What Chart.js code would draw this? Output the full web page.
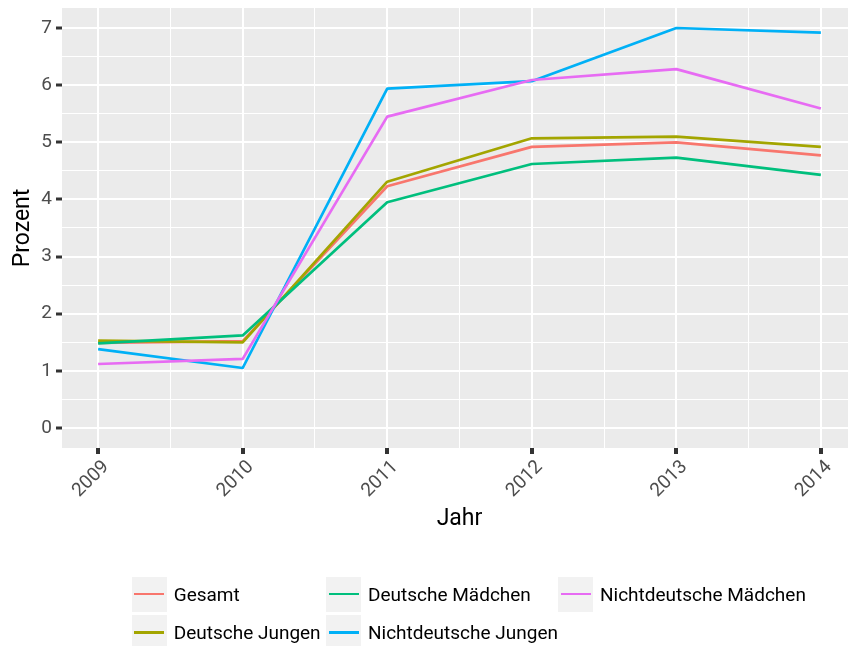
<!DOCTYPE html>
<html>
<head>
<meta charset="utf-8">
<script src="https://cdn.jsdelivr.net/npm/chart.js@4.4.0/dist/chart.umd.min.js"></script>
<style>
  html, body { margin: 0; padding: 0; background: #fff; overflow: hidden; width: 848px; height: 646px; }
  #wrap { position: relative; width: 857px; height: 646px; }
  #c { position: absolute; left: 0; top: 0; }
  .lg-key { position: absolute; width: 35px; height: 35px; background: #F2F2F2; }
  .lg-line { position: absolute; left: 2.5px; right: 2.5px; top: 16.25px; height: 2.5px; }
  .lg-text { position: absolute; font-family: Roboto, sans-serif; font-size: 19px; color: #000; line-height: 35px; white-space: nowrap; }
</style>
</head>
<body>
<div id="wrap">
  <canvas id="c" width="857" height="646"></canvas>
  <div id="legend"></div>
</div>
<script>
// ---- data ----
const years = [2009, 2010, 2011, 2012, 2013, 2014];
const gesamt                = [1.49, 1.52, 4.23, 4.92, 5.00, 4.77];
const deutscheJungen        = [1.53, 1.50, 4.31, 5.07, 5.10, 4.92];
const deutscheMaedchen      = [1.48, 1.62, 3.95, 4.62, 4.73, 4.43];
const nichtdeutscheJungen   = [1.38, 1.05, 5.94, 6.07, 7.00, 6.92];
const nichtdeutscheMaedchen = [1.12, 1.21, 5.45, 6.09, 6.28, 5.59];

const seriesNames  = ['Gesamt', 'Deutsche Jungen', 'Deutsche Mädchen', 'Nichtdeutsche Jungen', 'Nichtdeutsche Mädchen'];
const seriesValues = [gesamt, deutscheJungen, deutscheMaedchen, nichtdeutscheJungen, nichtdeutscheMaedchen];
const seriesColors = ['#F8766D', '#A3A500', '#00BF7D', '#00B0F6', '#E76BF3'];

const xTickValues = [2009, 2009.5, 2010, 2010.5, 2011, 2011.5, 2012, 2012.5, 2013, 2013.5, 2014];
const yTickValues = [0, 0.5, 1, 1.5, 2, 2.5, 3, 3.5, 4, 4.5, 5, 5.5, 6, 6.5, 7];

const xTitle = 'Jahr';
const yTitle = 'Prozent';

// ---- chart ----
const isMajor = v => Math.abs(v - Math.round(v)) < 1e-9;

const panelBg = {
  id: 'panelBg',
  beforeDraw(chart) {
    const {ctx, chartArea: a} = chart;
    ctx.save();
    ctx.fillStyle = '#EBEBEB';
    ctx.fillRect(a.left, a.top, a.right - a.left, a.bottom - a.top);
    ctx.restore();
  }
};

const datasets = seriesNames.map((name, i) => ({
  label: name,
  data: years.map((y, j) => ({x: y, y: seriesValues[i][j]})),
  borderColor: seriesColors[i],
  backgroundColor: seriesColors[i],
  borderWidth: 2.7,
  pointRadius: 0,
  tension: 0,
  fill: false,
  borderJoinStyle: 'round',
  order: seriesNames.length - 1 - i
}));

const tickFont = {family: 'Roboto', size: 19};
const titleFont = {family: 'Roboto', size: 23};

function gridOpts(tw) {
  return {
    color: '#FFFFFF',
    lineWidth: ctx => (ctx.tick && isMajor(ctx.tick.value)) ? 2 : 1,
    drawTicks: true,
    tickLength: 6,
    tickColor: ctx => (ctx.tick && isMajor(ctx.tick.value)) ? '#333333' : 'rgba(0,0,0,0)',
    tickWidth: tw
  };
}

new Chart(document.getElementById('c'), {
  type: 'line',
  data: {datasets},
  plugins: [panelBg],
  options: {
    responsive: false,
    animation: false,
    events: [],
    layout: {padding: {left: 0, top: 8, right: 0, bottom: 113}},
    plugins: {legend: {display: false}, tooltip: {enabled: false}, title: {display: false}},
    scales: {
      x: {
        type: 'linear',
        min: 2008.75,
        max: 2014.25,
        afterBuildTicks: s => { s.ticks = xTickValues.map(v => ({value: v})); },
        afterFit: s => { s.height = 85; s.paddingLeft = 0; s.paddingRight = 0; },
        ticks: {
          autoSkip: false,
          minRotation: 45,
          maxRotation: 45,
          color: '#4D4D4D',
          font: tickFont,
          padding: 2,
          labelOffset: 8,
          callback: v => isMajor(v) ? String(Math.round(v)) : ''
        },
        grid: gridOpts(4),
        border: {display: false},
        title: {display: true, text: xTitle, color: '#000', font: titleFont, padding: {top: 0, bottom: 0}}
      },
      y: {
        type: 'linear',
        min: -0.35,
        max: 7.35,
        afterBuildTicks: s => { s.ticks = yTickValues.map(v => ({value: v})); },
        afterFit: s => { s.width = 62; s.paddingTop = 0; s.paddingBottom = 0; },
        ticks: {
          autoSkip: false,
          color: '#4D4D4D',
          font: tickFont,
          padding: 4,
          callback: v => isMajor(v) ? String(Math.round(v)) : ''
        },
        grid: gridOpts(3),
        border: {display: false},
        title: {display: true, text: yTitle, color: '#000', font: titleFont, padding: {top: 9, bottom: 0}}
      }
    }
  }
});

// ---- legend (ggplot-style, filled column-wise, 3 columns x 2 rows) ----
const legendCols = [131.7, 326, 558];
const legendRows = [576.7, 615.2];
const legendEl = document.getElementById('legend');
seriesNames.forEach((name, i) => {
  const col = Math.floor(i / 2), row = i % 2;
  const key = document.createElement('div');
  key.className = 'lg-key';
  key.style.left = legendCols[col] + 'px';
  key.style.top = legendRows[row] + 'px';
  const line = document.createElement('div');
  line.className = 'lg-line';
  line.style.background = seriesColors[i];
  key.appendChild(line);
  legendEl.appendChild(key);
  const t = document.createElement('div');
  t.className = 'lg-text';
  t.style.left = (legendCols[col] + 42) + 'px';
  t.style.top = legendRows[row] + 'px';
  t.textContent = name;
  legendEl.appendChild(t);
});
</script>
</body>
</html>
